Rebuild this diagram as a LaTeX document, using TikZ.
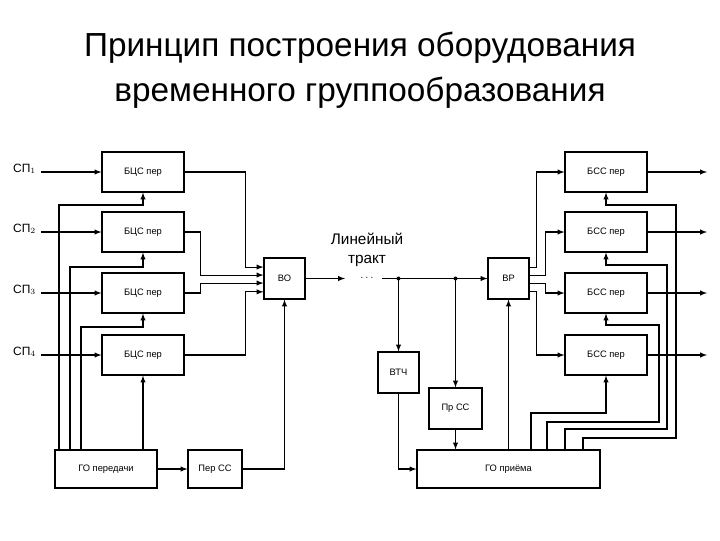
\documentclass[tikz,border=0pt]{standalone}
\usepackage{fontspec}
\setmainfont{Liberation Sans}
\usetikzlibrary{arrows}
\usetikzlibrary{positioning}
\begin{document}
\begin{tikzpicture}[x=0.75pt,y=-0.75pt,
                    >=latex,
                    line width=0.8pt,
                    blk/.style={rectangle,draw,font=\fontsize{7}{8}\selectfont,inner sep=0pt},
                    bcs/.style={blk,minimum width=61.5pt,minimum height=30pt},
                    sq/.style={blk,minimum width=30.75pt,minimum height=30.75pt},
                    lbl/.style={font=\fontsize{9}{10}\selectfont}
                    ]
  \useasboundingbox (0,0) rectangle (720,540);
  \node[font=\fontsize{25}{34}\selectfont,align=center] (title) at (360,70)
       {Принцип построения оборудования\\временного группообразования};
  % transmit side
  \foreach \i/\y in {1/172,2/232,3/293,4/355}{
    \node[bcs] (bc\i) at (143,\y) {БЦС пер};
    \node[lbl,anchor=east] (sp\i) at (41,\y-3) {СП$_{\i}$};
    \draw[->] (sp\i.east |- bc\i.west) ++(0,0) -- (bc\i.west);
  }
  \node[sq] (bo) at (284.5,278.5) {ВО};
  \node[blk,minimum width=76.5pt,minimum height=28.5pt] (got) at (106,469) {ГО передачи};
  \node[blk,minimum width=40.5pt,minimum height=28.5pt] (pss) at (215,469) {Пер СС};
  \draw[->] (bc1.east) -- ++(61,0) |- ([yshift=8.6pt]bo.west);
  \draw[->] (bc2.east) -- ++(16,0) |- ([yshift=2.6pt]bo.west);
  \draw[->] (bc3.east) -- ++(16,0) |- ([yshift=-3.4pt]bo.west);
  \draw[->] (bc4.east) -- ++(61,0) |- ([yshift=-10pt]bo.west);
  \draw[->] (got.north -| 59,0) |- (143,205) -- (bc1.south);
  \draw[->] (got.north -| 70,0) |- (143,267) -- (bc2.south);
  \draw[->] (got.north -| 81,0) |- (143,327) -- (bc3.south);
  \draw[->] (got.north -| bc4.south) -- (bc4.south);
  \draw[->] (got) -- (pss);
  \draw[->] (pss.east) -| (bo.south);
  % line
  \node[font=\fontsize{11.5}{14}\selectfont,align=center] (tract) at (367,250) {Линейный\\тракт};
  \node[inner sep=0pt,font=\footnotesize] (dots) at (367,278) {$\cdots$};
  \coordinate (lin) at (382,278.5);
  \draw[->] (bo.east) -- (345,278.5);
  \node[sq] (vr) at (508.5,278.5) {ВР};
  \draw[->] (lin) -- (vr.west);
  \node[sq] (vtch) at (398.5,372.5) {ВТЧ};
  \node[blk,minimum width=39.75pt,minimum height=30.75pt] (prss) at (455.5,408.5) {Пр СС};
  \node[blk,minimum width=137.25pt,minimum height=28.5pt] (gor) at (508.5,469) {ГО приёма};
  \fill (vtch.north |- lin) circle (2) (prss.north |- lin) circle (2);
  \draw[->] (vtch.north |- lin) -- (vtch.north);
  \draw[->] (prss.north |- lin) -- (prss.north);
  \draw[->] (vtch.south) |- (gor.west);
  \draw[->] (prss.south) -- (prss.south |- gor.north);
  \draw[->] (gor.north -| vr.south) -- (vr.south);
  % receive side
  \foreach \i/\y in {1/172,2/232,3/293,4/355}{
    \node[bcs] (bs\i) at (606,\y) {БСС пер};
    \coordinate (out\i) at (707,\y);
    \draw[->] (bs\i.east) -- (out\i);
  }
  \draw[->] ([yshift=8.6pt]vr.east) -- ++(7,0) |- (bs1.west);
  \draw[->] ([yshift=2.6pt]vr.east) -- ++(16,0) |- (bs2.west);
  \draw[->] ([yshift=-3.4pt]vr.east) -- ++(16,0) |- (bs3.west);
  \draw[->] ([yshift=-10pt]vr.east) -- ++(7,0) |- (bs4.west);
  \draw[->] (gor.north -| 531,0) |- (606,413) -- (bs4.south);
  \draw[->] (gor.north -| 547,0) |- (659,422) |- (606,325) -- (bs3.south);
  \draw[->] (gor.north -| 565,0) |- (667,429) |- (606,265) -- (bs2.south);
  \draw[->] (gor.north -| 583,0) |- (676,438) |- (606,205) -- (bs1.south);
\end{tikzpicture}
\end{document}
